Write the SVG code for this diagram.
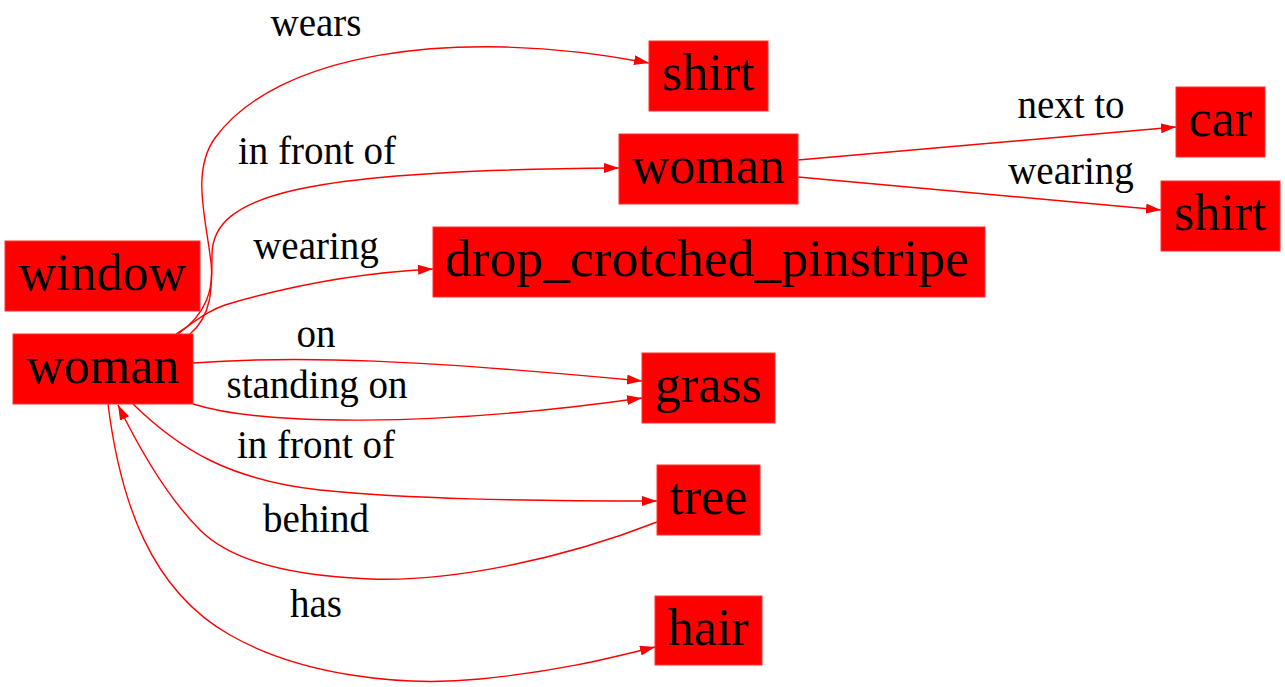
<svg xmlns="http://www.w3.org/2000/svg" width="1285" height="687" viewBox="0 0 1285 687">
<style>
.node rect{fill:#ff0000;stroke:#ff3030;stroke-width:1}
.node text{font-family:"Liberation Serif","Times New Roman",serif;font-size:52px;fill:#000;text-anchor:middle}
.edge path{fill:none;stroke:#ff0000;stroke-width:1.4}
.lbl{font-family:"Liberation Serif","Times New Roman",serif;font-size:39px;fill:#000;text-anchor:middle}
</style>
<defs>
<marker id="arr" markerUnits="userSpaceOnUse" markerWidth="16" markerHeight="11" refX="15" refY="5" orient="auto">
<path d="M0,0 L15,5 L0,10 z" fill="#ff0000"/>
</marker>
</defs>
<rect width="1285" height="687" fill="#fff"/>
<g id="edges" class="edge">
<path marker-end="url(#arr)" d="M 178,334 C 205,315 216,290 210,255 C 205,215 192,170 215,138 C 275,55 450,25 649,63"/>
<path marker-end="url(#arr)" d="M 190,334 C 212,315 212,290 212,255 C 212,195 300,170 619,168"/>
<path marker-end="url(#arr)" d="M 176,334 C 195,322 205,312 225,305 C 285,287 355,273 433,269"/>
<path marker-end="url(#arr)" d="M 193,363 C 300,355 420,360 642,381"/>
<path marker-end="url(#arr)" d="M 193,404 C 260,425 430,428 642,398"/>
<path marker-end="url(#arr)" d="M 133,404 C 180,450 230,480 320,490 C 410,499 520,501 657,501"/>
<path marker-end="url(#arr)" d="M 657,522 C 560,560 450,582 370,579 C 290,576 230,560 200,530 C 168,498 140,450 118,405"/>
<path marker-end="url(#arr)" d="M 108,404 C 120,500 150,590 230,635 C 300,675 400,687 480,679 C 560,671 610,658 655,647"/>
<path marker-end="url(#arr)" d="M 798,160 L 1176,127"/>
<path marker-end="url(#arr)" d="M 798,177 L 1161,210"/>
<text class="lbl" x="316" y="36">wears</text>
<text class="lbl" x="317" y="164">in front of</text>
<text class="lbl" x="316" y="259">wearing</text>
<text class="lbl" x="316" y="347">on</text>
<text class="lbl" x="317" y="398">standing on</text>
<text class="lbl" x="316" y="458">in front of</text>
<text class="lbl" x="316" y="532">behind</text>
<text class="lbl" x="316" y="617">has</text>
<text class="lbl" x="1071" y="118">next to</text>
<text class="lbl" x="1071" y="184">wearing</text>
</g>
<g id="window" class="node"><rect x="5" y="241" width="195" height="70"/><text x="102.5" y="290">window</text></g>
<g id="woman1" class="node"><rect x="13" y="334" width="180" height="70"/><text x="103" y="383">woman</text></g>
<g id="shirt1" class="node"><rect x="649" y="41" width="119" height="70"/><text x="708.5" y="90">shirt</text></g>
<g id="woman2" class="node"><rect x="619" y="134" width="179" height="70"/><text x="708.5" y="183">woman</text></g>
<g id="drop" class="node"><rect x="433" y="227" width="552" height="70"/><text x="707" y="276" textLength="524" lengthAdjust="spacingAndGlyphs">drop_crotched_pinstripe</text></g>
<g id="car" class="node"><rect x="1176" y="87" width="89" height="70"/><text x="1220.5" y="136">car</text></g>
<g id="shirt2" class="node"><rect x="1161" y="181" width="119" height="70"/><text x="1220.5" y="230">shirt</text></g>
<g id="grass" class="node"><rect x="642" y="353" width="133" height="70"/><text x="708.5" y="402">grass</text></g>
<g id="tree" class="node"><rect x="657" y="465" width="103" height="70"/><text x="708.5" y="514">tree</text></g>
<g id="hair" class="node"><rect x="655" y="596" width="107" height="69"/><text x="708.5" y="645">hair</text></g>
</svg>
